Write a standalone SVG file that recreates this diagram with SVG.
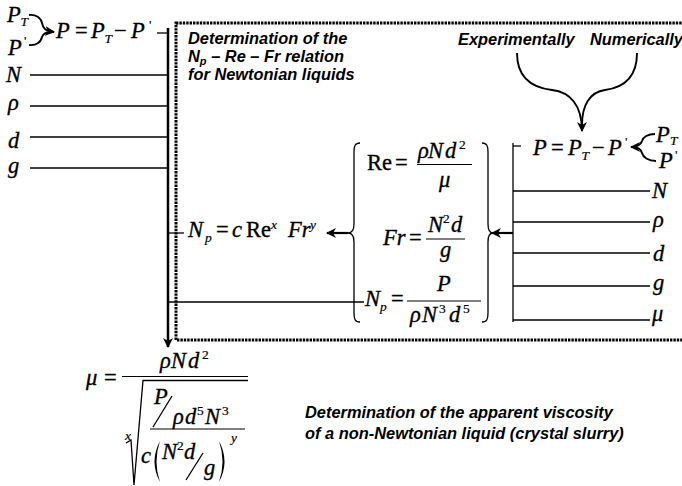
<svg xmlns="http://www.w3.org/2000/svg" width="682" height="486" viewBox="0 0 682 486">
<style>
text{fill:#000}
.m{font-family:"Liberation Serif","Times New Roman",serif;font-size:22.5px;stroke:#000;stroke-width:0.35}
.i{font-style:italic}
.s{font-family:"Liberation Serif","Times New Roman",serif;font-size:13.5px;stroke:#000;stroke-width:0.2}
.b{font-family:"Liberation Sans",Arial,sans-serif;font-size:16.4px;font-weight:bold;font-style:italic}
.ln{stroke:#000;stroke-width:1.3;fill:none}
.th{stroke:#000;stroke-width:2.2;fill:none}
.cv{stroke:#000;stroke-width:1.9;fill:none}
.bar{stroke:#000;stroke-width:1.2}
</style>
<defs>
<marker id="ah" viewBox="0 0 10 10" refX="9" refY="5" markerWidth="10" markerHeight="10" markerUnits="userSpaceOnUse" orient="auto">
<path d="M0,0 L10,5 L0,10 L3,5 z" fill="#000"/>
</marker>
</defs>

<g id="box">
<rect x="176" y="23" width="530" height="317" fill="none" stroke="#000" stroke-width="3" stroke-dasharray="2.4 1"/>
</g>

<g id="connectors">
<path class="cv" d="M29,15 C36,14 41,18 42,23 C43,28 45,31 54,32" marker-end="url(#ah)"/>
<path class="cv" d="M29,45 C36,46 41,42 42,37 C43,34 45,32 54,32"/>
<line class="ln" x1="157" y1="33" x2="168" y2="33"/>
<line x1="168" y1="28" x2="168" y2="347" stroke="#000" stroke-width="2.5" marker-end="url(#ah)"/>
<line class="ln" x1="30" y1="75" x2="168" y2="75"/>
<line class="ln" x1="30" y1="106" x2="168" y2="106"/>
<line class="ln" x1="30" y1="137" x2="168" y2="137"/>
<line class="ln" x1="30" y1="168" x2="168" y2="168"/>
<line class="ln" x1="168" y1="233" x2="184" y2="233"/>
<line class="ln" x1="168" y1="302" x2="364" y2="302"/>
<path class="th" d="M348,233 L327,233" marker-end="url(#ah)"/>
<path class="ln" d="M360,143 C355,143 354,146 354,152 L354,224 C354,230 352,233 348,233 C352,233 354,236 354,242 L354,313 C354,319 355,322 360,322"/>
<path class="ln" d="M482,143 C487,143 488,146 488,152 L488,224 C488,230 490,233 493,233 C490,233 488,236 488,242 L488,313 C488,319 487,322 482,322"/>
<path class="th" d="M513,233 L492,233" marker-end="url(#ah)"/>
<line class="ln" x1="513" y1="143" x2="513" y2="322"/>
<line class="ln" x1="513" y1="146" x2="521" y2="146"/>
<line class="ln" x1="513" y1="191" x2="650" y2="191"/>
<line class="ln" x1="513" y1="222" x2="650" y2="222"/>
<line class="ln" x1="513" y1="253" x2="650" y2="253"/>
<line class="ln" x1="513" y1="286" x2="650" y2="286"/>
<line class="ln" x1="513" y1="320" x2="650" y2="320"/>
<path class="cv" d="M517,53 C517,80 535,88 552,90 C570,92 582,105 582,131" marker-end="url(#ah)"/>
<path class="cv" d="M637,53 C637,80 620,88 605,90 C590,92 582,105 582,125"/>
<path class="cv" d="M655,134 C648,134 643,137 642,141 C641,144 639,147 631,147" marker-end="url(#ah)"/>
<path class="cv" d="M656,161 C648,161 643,157 642,153 C641,150 639,147 633,147"/>
</g>

<g id="in-left">
<text class="m i" x="7" y="22">P</text><text class="s i" x="20.5" y="26">T</text>
<text class="m i" x="8" y="55">P</text><text class="s" x="24" y="45">'</text>
<text class="m i" x="6" y="82">N</text>
<text class="m i" x="8" y="110">ρ</text>
<text class="m i" x="8" y="148">d</text>
<text class="m i" x="8" y="173">g</text>
</g>

<g id="eq-p-left">
<text class="m i" x="56" y="38">P</text>
<text class="m" x="75" y="38">=</text>
<text class="m i" x="91" y="38">P</text><text class="s i" x="104.5" y="43">T</text>
<text class="m" x="114" y="38">−</text>
<text class="m i" x="131" y="38">P</text><text class="s" x="149" y="29">'</text>
</g>

<g id="box-title">
<text class="b" x="188" y="44">Determination of the</text>
<text class="b" x="188" y="61.5">N<tspan font-size="11" dy="3">p</tspan><tspan dy="-3"> – Re – Fr relation</tspan></text>
<text class="b" x="188" y="80">for Newtonian liquids</text>
</g>

<g id="src-exp"><text class="b" x="458" y="45">Experimentally</text></g>
<g id="src-num"><text class="b" x="590" y="45">Numerically</text></g>

<g id="eq-p-right">
<text class="m i" x="533" y="155">P</text>
<text class="m" x="551" y="155">=</text>
<text class="m i" x="568" y="155">P</text><text class="s i" x="581.5" y="160">T</text>
<text class="m" x="592" y="155">−</text>
<text class="m i" x="608" y="155">P</text><text class="s" x="625" y="146">'</text>
</g>

<g id="in-right">
<text class="m i" x="656" y="142">P</text><text class="s i" x="670" y="145">T</text>
<text class="m i" x="659" y="168">P</text><text class="s" x="675" y="159">'</text>
<text class="m i" x="652" y="198">N</text>
<text class="m i" x="653" y="227">ρ</text>
<text class="m i" x="653" y="261">d</text>
<text class="m i" x="653" y="290">g</text>
<text class="m i" x="652" y="321">μ</text>
</g>

<g id="eq-np-law">
<text class="m i" x="188" y="237">N</text><text class="s i" x="205" y="242">p</text>
<text class="m" x="216" y="237">=</text>
<text class="m i" x="232" y="237">c</text>
<text class="m" x="246" y="237">Re</text><text class="s i" x="271" y="229">x</text>
<text class="m i" x="288" y="237">Fr</text><text class="s i" x="310" y="229">y</text>
</g>

<g id="eq-groups">
<text class="m" x="367" y="170">Re</text>
<text class="m" x="395" y="170">=</text>
<line class="bar" x1="417" y1="164.5" x2="472" y2="164.5"/>
<text class="m i" x="418" y="158">ρ</text><text class="m i" x="428" y="158">N</text><text class="m i" x="445" y="158">d</text><text class="s" x="459" y="149">2</text>
<text class="m i" x="439" y="187">μ</text>

<text class="m i" x="383" y="245">Fr</text>
<text class="m" x="409" y="245">=</text>
<line class="bar" x1="426" y1="239" x2="465" y2="239"/>
<text class="m i" x="428" y="232">N</text><text class="s" x="443" y="223">2</text><text class="m i" x="451" y="232">d</text>
<text class="m i" x="440" y="257">g</text>

<text class="m i" x="365" y="306">N</text><text class="s i" x="380" y="311">p</text>
<text class="m" x="391" y="306">=</text>
<line class="bar" x1="407" y1="301" x2="481" y2="301"/>
<text class="m i" x="437" y="291">P</text>
<text class="m i" x="410" y="322">ρ</text><text class="m i" x="422" y="322">N</text><text class="s" x="439" y="313">3</text><text class="m i" x="449" y="322">d</text><text class="s" x="463" y="313">5</text>
</g>

<g id="eq-mu">
<text class="m i" x="86" y="385">μ</text>
<text class="m" x="104" y="385">=</text>
<line class="bar" x1="122" y1="376.5" x2="248" y2="376.5"/>
<text class="m i" x="160" y="368">ρ</text><text class="m i" x="171" y="368">N</text><text class="m i" x="188" y="368">d</text><text class="s" x="202" y="359">2</text>
<path class="ln" d="M126,443 L131,440 L134,485 L143,380.5 L248,380.5" stroke-width="1.5"/>
<text class="s i" x="125" y="440" font-size="11">x</text>
<line class="bar" x1="150" y1="429" x2="245" y2="429"/>
<text class="m i" x="154" y="404">P</text>
<line class="ln" x1="153" y1="427" x2="172" y2="396"/>
<text class="m i" x="173" y="424">ρ</text><text class="m i" x="185" y="424">d</text><text class="s" x="197" y="415">5</text><text class="m i" x="205" y="424">N</text><text class="s" x="222" y="415">3</text>
<text class="m i" x="141" y="463">c</text>
<path d="M160,441 Q149,461.5 160,482 Q153,461.5 160,441 Z" fill="#000"/>
<text class="m i" x="162" y="459">N</text><text class="s" x="177" y="450">2</text><text class="m i" x="184" y="459">d</text>
<line class="ln" x1="186" y1="480" x2="203" y2="453"/>
<text class="m i" x="204" y="475">g</text>
<path d="M219,441 Q230,461.5 219,482 Q226,461.5 219,441 Z" fill="#000"/>
<text class="s i" x="231" y="442">y</text>
</g>

<g id="note">
<text class="b" x="305" y="418">Determination of the apparent viscosity</text>
<text class="b" x="305" y="439">of a non-Newtonian liquid (crystal slurry)</text>
</g>
</svg>
